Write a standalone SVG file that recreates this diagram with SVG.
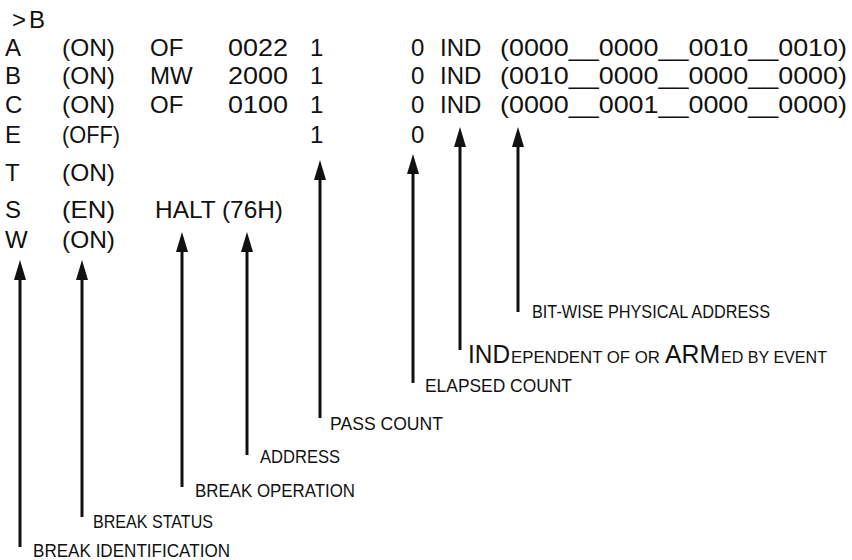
<svg xmlns="http://www.w3.org/2000/svg" width="852" height="560" viewBox="0 0 852 560">
<defs>
<style>
.t{font-family:"Liberation Sans",Arial,sans-serif;font-size:24px;fill:#111}
.l{font-family:"Liberation Sans",Arial,sans-serif;font-size:18px;fill:#111}
.big{font-size:25px}
.sm{font-size:17px}
.c{stroke:#111;stroke-width:3;fill:none;marker-end:url(#ah)}
</style>
<marker id="ah" viewBox="0 0 20 12" refX="2" refY="6" markerWidth="20" markerHeight="12" markerUnits="userSpaceOnUse" orient="auto">
<path d="M0,0 L20,6 L0,12 z" fill="#111"/>
</marker>
</defs>
<rect width="852" height="560" fill="#fff"/>
<g id="listing" class="t">
<text x="12" y="28">&gt;</text><text x="29" y="28">B</text>
<text x="5" y="56">A</text><text x="62" y="56" textLength="53" lengthAdjust="spacingAndGlyphs">(ON)</text><text x="150" y="56">OF</text><text x="228" y="56" textLength="60" lengthAdjust="spacingAndGlyphs">0022</text><text x="310" y="56">1</text><text x="411" y="56">0</text><text x="440" y="56">IND</text><text x="500" y="56" textLength="347" lengthAdjust="spacingAndGlyphs">(0000__0000__0010__0010)</text>
<text x="5" y="84">B</text><text x="62" y="84" textLength="53" lengthAdjust="spacingAndGlyphs">(ON)</text><text x="150" y="84">MW</text><text x="228" y="84" textLength="60" lengthAdjust="spacingAndGlyphs">2000</text><text x="310" y="84">1</text><text x="411" y="84">0</text><text x="440" y="84">IND</text><text x="500" y="84" textLength="347" lengthAdjust="spacingAndGlyphs">(0010__0000__0000__0000)</text>
<text x="5" y="113">C</text><text x="62" y="113" textLength="53" lengthAdjust="spacingAndGlyphs">(ON)</text><text x="150" y="113">OF</text><text x="228" y="113" textLength="60" lengthAdjust="spacingAndGlyphs">0100</text><text x="310" y="113">1</text><text x="411" y="113">0</text><text x="440" y="113">IND</text><text x="500" y="113" textLength="347" lengthAdjust="spacingAndGlyphs">(0000__0001__0000__0000)</text>
<text x="5" y="143">E</text><text x="62" y="143" textLength="58" lengthAdjust="spacingAndGlyphs">(OFF)</text><text x="310" y="143">1</text><text x="411" y="143">0</text>
<text x="5" y="181">T</text><text x="62" y="181" textLength="53" lengthAdjust="spacingAndGlyphs">(ON)</text>
<text x="5" y="218">S</text><text x="62" y="218" textLength="53" lengthAdjust="spacingAndGlyphs">(EN)</text><text x="155" y="218" textLength="128" lengthAdjust="spacingAndGlyphs">HALT (76H)</text>
<text x="5" y="248">W</text><text x="62" y="248" textLength="53" lengthAdjust="spacingAndGlyphs">(ON)</text>
</g>
<g id="connectors" class="c">
<path d="M20,547 L20,278"/>
<path d="M82,517 L82,278"/>
<path d="M182,487 L182,250"/>
<path d="M247,455 L247,250"/>
<path d="M320,418 L320,178"/>
<path d="M413,383 L413,172"/>
<path d="M460,350 L460,145"/>
<path d="M518,312 L518,145"/>
</g>
<g id="label-bitwise"><text class="l" x="532" y="318" textLength="238" lengthAdjust="spacingAndGlyphs">BIT-WISE PHYSICAL ADDRESS</text></g>
<g id="label-ind" class="l">
<text class="big" x="468" y="363" textLength="42" lengthAdjust="spacingAndGlyphs">IND</text>
<text class="sm" x="511" y="363" textLength="149" lengthAdjust="spacingAndGlyphs">EPENDENT OF OR</text>
<text class="big" x="665" y="363" textLength="55" lengthAdjust="spacingAndGlyphs">ARM</text>
<text class="sm" x="721" y="363" textLength="106" lengthAdjust="spacingAndGlyphs">ED BY EVENT</text>
</g>
<g id="label-elapsed"><text class="l" x="425" y="392" textLength="147" lengthAdjust="spacingAndGlyphs">ELAPSED COUNT</text></g>
<g id="label-pass"><text class="l" x="330" y="430" textLength="113" lengthAdjust="spacingAndGlyphs">PASS COUNT</text></g>
<g id="label-address"><text class="l" x="260" y="463" textLength="80" lengthAdjust="spacingAndGlyphs">ADDRESS</text></g>
<g id="label-operation"><text class="l" x="195" y="497" textLength="160" lengthAdjust="spacingAndGlyphs">BREAK OPERATION</text></g>
<g id="label-status"><text class="l" x="93" y="528" textLength="120" lengthAdjust="spacingAndGlyphs">BREAK STATUS</text></g>
<g id="label-id"><text class="l" x="33" y="557" textLength="197" lengthAdjust="spacingAndGlyphs">BREAK IDENTIFICATION</text></g>
</svg>
